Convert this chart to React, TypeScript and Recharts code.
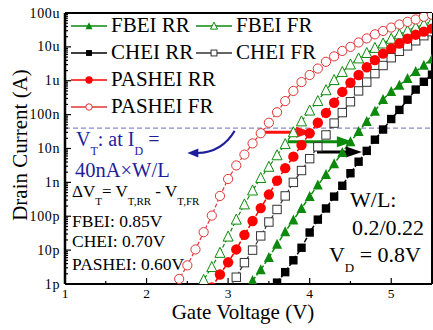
import React from 'react'
import { ComposedChart, Line, XAxis, YAxis, ReferenceLine, Legend } from 'recharts'

// gate voltage grid (V)
const gateV = [2.3, 2.4, 2.5, 2.6, 2.7, 2.8, 2.9, 3.0, 3.1, 3.2, 3.3, 3.4, 3.5, 3.6, 3.7, 3.8, 3.9, 4.0, 4.1, 4.2, 4.3, 4.4, 4.5, 4.6, 4.7, 4.8, 4.9, 5.0, 5.1, 5.2, 5.3, 5.4, 5.5]

// drain current, log10(A)
const fbeiRR = [null, null, null, null, null, null, null, null, null, -12.25, -11.9, -11.58, -11.22, -10.83, -10.46, -10.11, -9.77, -9.42, -9.08, -8.77, -8.45, -8.12, -7.8, -7.5, -7.2, -6.9, -6.55, -6.32, -6.13, -5.93, -5.73, -5.54, -5.36]
const fbeiFR = [null, null, null, -12.3, -11.88, -11.5, -11.08, -10.6, -10.1, -9.65, -9.24, -8.87, -8.54, -8.2, -7.87, -7.52, -7.2, -6.88, -6.6, -6.28, -5.98, -5.74, -5.52, -5.34, -5.18, -5.03, -4.9, -4.76, -4.63, -4.52, -4.42, -4.33, -4.25]
const cheiRR = [null, null, null, null, null, null, null, null, null, null, null, null, -12.3, -11.96, -11.65, -11.3, -10.93, -10.48, -10.1, -9.77, -9.42, -9.1, -8.73, -8.39, -8.07, -7.74, -7.44, -7.13, -6.86, -6.56, -6.26, -6.03, -5.82]
const cheiFR = [null, null, null, null, null, null, null, -12.2, -11.8, -11.37, -11.0, -10.58, -10.17, -9.8, -9.4, -9.0, -8.65, -8.3, -7.95, -7.6, -7.25, -6.94, -6.62, -6.3, -6.04, -5.79, -5.55, -5.32, -5.13, -4.97, -4.82, -4.67, -4.55]
const pasheiRR = [null, null, null, null, null, -12.1, -11.72, -11.36, -10.98, -10.55, -10.14, -9.76, -9.36, -8.95, -8.58, -8.24, -7.9, -7.55, -7.24, -6.95, -6.65, -6.33, -6.06, -5.83, -5.6, -5.39, -5.2, -5.05, -4.9, -4.76, -4.64, -4.55, -4.46]
const pasheiFR = [-12.25, -11.85, -11.45, -10.98, -10.47, -9.98, -9.4, -8.9, -8.5, -8.18, -7.85, -7.55, -7.24, -6.93, -6.6, -6.3, -6.04, -5.83, -5.64, -5.44, -5.28, -5.12, -5.0, -4.87, -4.75, -4.63, -4.53, -4.43, -4.34, -4.26, -4.19, -4.11, -4.05]

const yMajorTicks = [1e-12, 1e-11, 1e-10, 1e-9, 1e-8, 1e-7, 1e-6, 1e-5, 1e-4]
const yTickLabels = ['1p', '10p', '100p', '1n', '10n', '100n', '1u', '10u', '100u']
const xMajorTicks = [1, 2, 3, 4, 5]
const xMinorTicks = [1.5, 2.5, 3.5, 4.5]

// V_T extraction level and the delta-V_T arrows (FR -> RR)
const vtLevel = 4e-8
const arrowFrom = [3.45, 3.73, 4.09]
const arrowTo = [4.03, 4.53, 4.64]
const arrowLevel = [-7.52, -7.8, -8.1]
const arrowColor = ['#ff1010', '#0b8a0b', '#000000']

const FONT = '"Liberation Serif", "Times New Roman", serif'
const BLUE = '#1e1e9c'

const yMinorTicks: number[] = []
yMajorTicks.slice(0, -1).forEach((d) => {
  for (let m = 2; m <= 9; m++) yMinorTicks.push(d * m)
})

const toAmp = (v: number | null) => (v == null ? null : Math.pow(10, v))

const data = gateV.map((v, i) => ({
  v,
  fbeiRR: toAmp(fbeiRR[i]),
  fbeiFR: toAmp(fbeiFR[i]),
  cheiRR: toAmp(cheiRR[i]),
  cheiFR: toAmp(cheiFR[i]),
  pasheiRR: toAmp(pasheiRR[i]),
  pasheiFR: toAmp(pasheiFR[i]),
}))

type Shape = 'tri' | 'sq' | 'cir'
const series: { key: string; name: string; color: string; shape: Shape; filled: boolean; dash: string }[] = [
  { key: 'fbeiRR', name: 'FBEI RR', color: '#0b8a0b', shape: 'tri', filled: true, dash: '5 2' },
  { key: 'fbeiFR', name: 'FBEI FR', color: '#0b8a0b', shape: 'tri', filled: false, dash: '4 2' },
  { key: 'cheiRR', name: 'CHEI RR', color: '#000000', shape: 'sq', filled: true, dash: '5 2' },
  { key: 'cheiFR', name: 'CHEI FR', color: '#333333', shape: 'sq', filled: false, dash: '4 2' },
  { key: 'pasheiRR', name: 'PASHEI RR', color: '#ff0000', shape: 'cir', filled: true, dash: '5 2' },
  { key: 'pasheiFR', name: 'PASHEI FR', color: '#e03434', shape: 'cir', filled: false, dash: '4 2' },
]

function Marker({ cx, cy, shape, filled, color, s }: { cx: number; cy: number; shape: Shape; filled: boolean; color: string; s: number }) {
  const fill = filled ? color : '#ffffff'
  const sw = filled ? 0 : 1
  if (shape === 'tri') {
    const pts = `${cx},${cy - s * 0.55} ${cx + s / 2},${cy + s * 0.45} ${cx - s / 2},${cy + s * 0.45}`
    return <polygon points={pts} fill={fill} stroke={color} strokeWidth={sw} />
  }
  if (shape === 'sq') {
    const h = s * 0.42
    return <rect x={cx - h} y={cy - h} width={h * 2} height={h * 2} fill={fill} stroke={color} strokeWidth={sw} />
  }
  return <circle cx={cx} cy={cy} r={filled ? s * 0.52 : s * 0.46} fill={fill} stroke={color} strokeWidth={sw} />
}

const YTick = (props: any) => {
  const { x, y, payload } = props
  const idx = yMajorTicks.findIndex((t) => Math.abs(Math.log10(t) - Math.log10(payload.value)) < 1e-6)
  const major = idx >= 0
  return (
    <g>
      <line x1={x} x2={x + (major ? 6 : 3)} y1={y} y2={y} stroke="#000" strokeWidth={1.2} />
      {major && (
        <text x={x - 5} y={y} textAnchor="end" dominantBaseline="central" fontFamily={FONT} fontSize={14} letterSpacing={0.6} fill="#000">
          {yTickLabels[idx]}
        </text>
      )}
    </g>
  )
}

const XTick = (props: any) => {
  const { x, y, payload } = props
  const major = xMajorTicks.includes(payload.value)
  return (
    <g>
      <line x1={x} x2={x} y1={y} y2={y - (major ? 6 : 3)} stroke="#000" strokeWidth={1.2} />
      {major && (
        <text x={x} y={y + 14} textAnchor="middle" fontFamily={FONT} fontSize={13.5} fill="#000">
          {payload.value}
        </text>
      )}
    </g>
  )
}

const Arrow = (props: any) => {
  const { x1, y1, x2, y2, stroke } = props
  const dir = Math.sign(x2 - x1) || 1
  const head = 16
  return (
    <g>
      <line x1={x1} y1={y1} x2={x2 - dir * head * 0.8} y2={y2} stroke={stroke} strokeWidth={3} />
      <polygon points={`${x2},${y2} ${x2 - dir * head},${y2 - 5.5} ${x2 - dir * head},${y2 + 5.5}`} fill={stroke} />
    </g>
  )
}

const CurvedArrow = (props: any) => {
  const { x1, y1, x2, y2, stroke } = props
  const cx = x1 - (x1 - x2) * 0.28
  const tipX = x2
  const startX = x2 + 10
  return (
    <g>
      <path d={`M${x1},${y1} Q${cx},${y2} ${startX},${y2}`} fill="none" stroke={stroke} strokeWidth={2} />
      <polygon points={`${tipX},${y2} ${startX + 1},${y2 - 4.5} ${startX + 1},${y2 + 4.5}`} fill={stroke} />
    </g>
  )
}

const LegendBox = () => {
  const rows = [[0, 1], [2, 3], [4], [5]]
  return (
    <div style={{ fontFamily: FONT, fontSize: 21, color: '#000', width: 340 }}>
      {rows.map((row, r) => (
        <div key={r} style={{ display: 'flex', alignItems: 'center', height: 27 }}>
          {row.map((si, j) => {
            const s = series[si]
            return (
              <div key={si} style={{ display: 'flex', alignItems: 'center', flex: '0 0 auto', width: j === 0 ? 125 : 140 }}>
                <svg width={36} height={12} style={{ display: 'block', flex: '0 0 36px' }}>
                  <line x1={0} x2={36} y1={6} y2={6} stroke={s.color} strokeWidth={1.6} />
                  <Marker cx={18} cy={6} shape={s.shape} filled={s.filled} color={s.color} s={7} />
                </svg>
                <span style={{ marginLeft: 4, lineHeight: '27px', whiteSpace: 'nowrap' }}>{s.name}</span>
              </div>
            )
          })}
        </div>
      ))}
    </div>
  )
}

export default function App() {
  return (
    <div style={{ position: 'absolute', left: 0, top: 0, width: 433, height: 330, background: '#fff' }}>
      <ComposedChart width={433} height={330} data={data} margin={{ top: 13, right: 1, left: 0, bottom: 0 }}>
        <XAxis
          type="number"
          dataKey="v"
          domain={[1, 5.5]}
          allowDataOverflow
          ticks={[...xMajorTicks, ...xMinorTicks].sort((a, b) => a - b)}
          interval={0}
          tickSize={0}
          tickMargin={0}
          tickLine={false}
          tick={<XTick />}
          axisLine={{ stroke: '#000', strokeWidth: 2 }}
          height={46}
          label={{
            content: () => (
              <text x={243} y={319} textAnchor="middle" fontFamily={FONT} fontSize={21} fill="#000">
                Gate Voltage (V)
              </text>
            ),
          }}
        />
        <YAxis
          type="number"
          scale="log"
          domain={[1e-12, 1e-4]}
          allowDataOverflow
          ticks={[...yMajorTicks, ...yMinorTicks].sort((a, b) => a - b)}
          interval={0}
          tickSize={0}
          tickMargin={0}
          tickLine={false}
          tick={<YTick />}
          axisLine={{ stroke: '#000', strokeWidth: 2.5 }}
          width={65}
          label={{
            content: () => (
              <text transform="translate(27,145) rotate(-90)" textAnchor="middle" fontFamily={FONT} fontSize={21} fill="#000">
                Drain Current (A)
              </text>
            ),
          }}
        />
        <ReferenceLine y={1e-4} stroke="#000" strokeWidth={2} />
        <ReferenceLine x={5.5} stroke="#000" strokeWidth={2} />
        <ReferenceLine y={vtLevel} stroke="#8a8ac8" strokeDasharray="5 3" strokeWidth={1.2} />
        {series.map((s) => (
          <Line
            key={s.key}
            dataKey={s.key}
            name={s.name}
            type="linear"
            stroke={s.color}
            strokeWidth={s.filled ? 1.5 : 1.2}
            strokeDasharray={s.dash}
            isAnimationActive={false}
            connectNulls={false}
            dot={(p: any) =>
              p.cx == null || p.cy == null || p.value == null ? (
                <g key={`${s.key}-${p.index}`} />
              ) : (
                <g key={`${s.key}-${p.index}`}>
                  <Marker cx={p.cx} cy={p.cy} shape={s.shape} filled={s.filled} color={s.color} s={10} />
                </g>
              )
            }
            activeDot={false}
          />
        ))}
        {arrowFrom.map((x0, i) => (
          <ReferenceLine
            key={`arrow-${i}`}
            segment={[
              { x: x0, y: Math.pow(10, arrowLevel[i]) },
              { x: arrowTo[i], y: Math.pow(10, arrowLevel[i]) },
            ]}
            stroke={arrowColor[i]}
            ifOverflow="visible"
            shape={(p: any) => <Arrow {...p} stroke={arrowColor[i]} />}
          />
        ))}
        <ReferenceLine
          segment={[
            { x: 3.08, y: Math.pow(10, -7.48) },
            { x: 2.5, y: Math.pow(10, -8.13) },
          ]}
          stroke={BLUE}
          ifOverflow="visible"
          shape={(p: any) => <CurvedArrow {...p} stroke={BLUE} />}
        />
        <Legend
          layout="horizontal"
          verticalAlign="middle"
          align="center"
          wrapperStyle={{ top: 12, left: 71, width: 340 }}
          content={() => <LegendBox />}
        />
      </ComposedChart>
      <svg width={433} height={330} style={{ position: 'absolute', left: 0, top: 0, pointerEvents: 'none' }} fontFamily={FONT}>
        <text x={76} y={146} fontSize={20} fill={BLUE}>
          V<tspan fontSize={12} dy={9}>T</tspan>
          <tspan dy={-9}>: at I</tspan>
          <tspan fontSize={12} dy={9}>D</tspan>
          <tspan dy={-9}> =</tspan>
        </text>
        <text x={75} y={177} fontSize={20.5} fill={BLUE}>
          40nA×W/L
        </text>
        <text x={72} y={197} fontSize={17} fill="#000">
          ΔV<tspan fontSize={11} dy={8}>T</tspan>
          <tspan dy={-8}>= V</tspan>
          <tspan fontSize={11} dy={8}>T,RR</tspan>
          <tspan dy={-8}> - V</tspan>
          <tspan fontSize={11} dy={8}>T,FR</tspan>
        </text>
        <text x={72} y={226.5} fontSize={17.5} fill="#000">FBEI: 0.85V</text>
        <text x={72} y={247} fontSize={17.5} fill="#000">CHEI: 0.70V</text>
        <text x={72} y={270} fontSize={17.5} fill="#000">PASHEI: 0.60V</text>
        <text x={350} y={206.5} fontSize={22} fill="#000">W/L:</text>
        <text x={352} y={235} fontSize={22} fill="#000">0.2/0.22</text>
        <text x={421} y={262} fontSize={22} fill="#000" textAnchor="end">
          V<tspan fontSize={13} dy={10}>D</tspan>
          <tspan dy={-10}> = 0.8V</tspan>
        </text>
      </svg>
    </div>
  )
}
